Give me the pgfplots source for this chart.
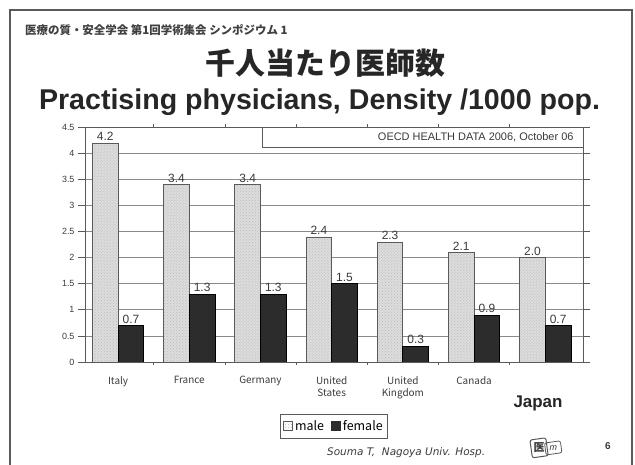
\documentclass[border=0pt]{standalone}
\usepackage{fontspec}
\usepackage{pgfplots}
\usepackage{pgfplotstable}
\pgfplotsset{compat=1.18}
\usetikzlibrary{patterns}
\setmainfont{Liberation Sans}
\newfontfamily\jp{Noto Sans CJK JP}
\newfontfamily\footfont{DejaVu Sans}
\definecolor{maleFill}{HTML}{DDDDDD}
\definecolor{femaleFill}{HTML}{2C2C2C}
\definecolor{frameGray}{HTML}{5A5A5A}
\definecolor{gridGray}{HTML}{8A8A8A}
\definecolor{textGray}{HTML}{3A3A3A}

% Practising physicians per 1000 population, by sex
\pgfplotstableread{
idx male female ml fl
0 4.2 0.7 4.2 0.7
1 3.4 1.3 3.4 1.3
2 3.4 1.3 3.4 1.3
3 2.4 1.5 2.4 1.5
4 2.3 0.3 2.3 0.3
5 2.1 0.9 2.1 0.9
6 2.0 0.7 2.0 0.7
}\density

\begin{document}
\begin{tikzpicture}[x=1bp,y=1bp]
\path[use as bounding box] (0,0) rectangle (635,465);
% slide frame
\draw[frameGray, line width=2bp] (10,-5) -- (10,455) -- (632,455) -- (632,-5);
% slide header and titles
\node[anchor=base west, font=\jp\bfseries\fontsize{11.5}{12}\selectfont, text=black!75, inner sep=0pt] at (25,430) {医療の質・安全学会 第1回学術集会 シンポジウム 1};
\node[font=\jp\bfseries\fontsize{30}{31}\selectfont, text=black!85] at (325.5,402) {千人当たり医師数};
\node[anchor=base, font=\bfseries\fontsize{28.7}{28.7}\selectfont, text=black!85, inner sep=0pt] at (319.5,355.5) {Practising physicians, Density /1000 pop.};

\begin{axis}[
  at={(85bp,103bp)}, anchor=south west,
  scale only axis, width=498bp, height=234.5bp,
  ybar=0pt, bar width=0.36,
  xmin=-0.465, xmax=6.53, ymin=0, ymax=4.5,
  axis line style={frameGray, line width=0.8bp},
  ytick={0,0.5,1,1.5,2,2.5,3,3.5,4,4.5},
  ymajorgrids, grid style={gridGray, line width=0.8bp},
  tick align=outside, major tick length=7bp,
  y tick style={frameGray, line width=0.8bp},
  yticklabel style={font=\fontsize{9}{9}\selectfont, text=textGray, /pgf/number format/assume math mode=true},
  xtick={0,1,2,3,4,5},
  xticklabels={Italy, France, Germany, United\\States, United\\Kingdom, Canada},
  xticklabel style={align=center, font=\jp\fontsize{10}{12}\selectfont, text=textGray, yshift=-4bp},
  x tick style={draw=none},
  minor xtick={0.5,1.5,2.5,3.5,4.5,5.5},
  minor x tick style={draw=frameGray, line width=0.8bp},
  minor tick length=3bp,
  nodes near coords,
  point meta=explicit symbolic,
  nodes near coords style={font=\fontsize{12}{12}\selectfont, text=textGray, inner sep=2bp},
  legend columns=2,
  legend style={at={(0.5,-0.274)}, anchor=center, draw=frameGray, line width=0.8bp,
    font=\jp\fontsize{12.5}{12.5}\selectfont, inner xsep=3bp, inner ysep=4bp,
    /tikz/every even column/.append style={column sep=5bp}},
]
\addplot[fill=maleFill, draw=frameGray, line width=0.8bp,
  postaction={pattern=crosshatch dots, pattern color=gray!55},
  legend image code/.code={\draw[fill=white, draw=frameGray, line width=0.8bp] (0bp,-4.5bp) rectangle (9bp,4.5bp);}]
  table[x=idx, y=male, meta=ml] {\density};
\addplot[fill=femaleFill, draw=black, line width=0.8bp,
  legend image code/.code={\fill[femaleFill] (0bp,-4.5bp) rectangle (9bp,4.5bp);}]
  table[x=idx, y=female, meta=fl] {\density};
\legend{male, female}
\end{axis}

% data source box
\draw[frameGray, line width=0.8bp, fill=white] (262,318) rectangle (583,338);
\node[anchor=east, font=\fontsize{11}{11}\selectfont, text=textGray] at (577,328) {OECD HEALTH DATA 2006, October 06};

% highlighted country
\node[font=\bfseries\fontsize{17}{17}\selectfont, text=black!85] at (538,62) {Japan};

% footer
\node[anchor=base west, font=\footfont\itshape\fontsize{10.5}{10.5}\selectfont, text=textGray, inner sep=0pt] at (327,9) {Souma T,\ \ Nagoya Univ. Hosp.};
\node[font=\bfseries\fontsize{10}{10}\selectfont, text=textGray] at (608,19) {6};
% hospital logo
\begin{scope}[shift={(545,18)}, rotate=8]
  \draw[frameGray, line width=1bp, rounded corners=2bp] (-14,-9) rectangle (2,9);
  \node[font=\jp\bfseries\fontsize{11}{11}\selectfont, text=textGray] at (-6,0) {医};
  \draw[frameGray, line width=0.8bp, rounded corners=2bp] (0,-8) rectangle (16,4);
  \node[font=\itshape\fontsize{9}{9}\selectfont, text=textGray] at (8,-2.5) {m};
\end{scope}
\end{tikzpicture}
\end{document}
